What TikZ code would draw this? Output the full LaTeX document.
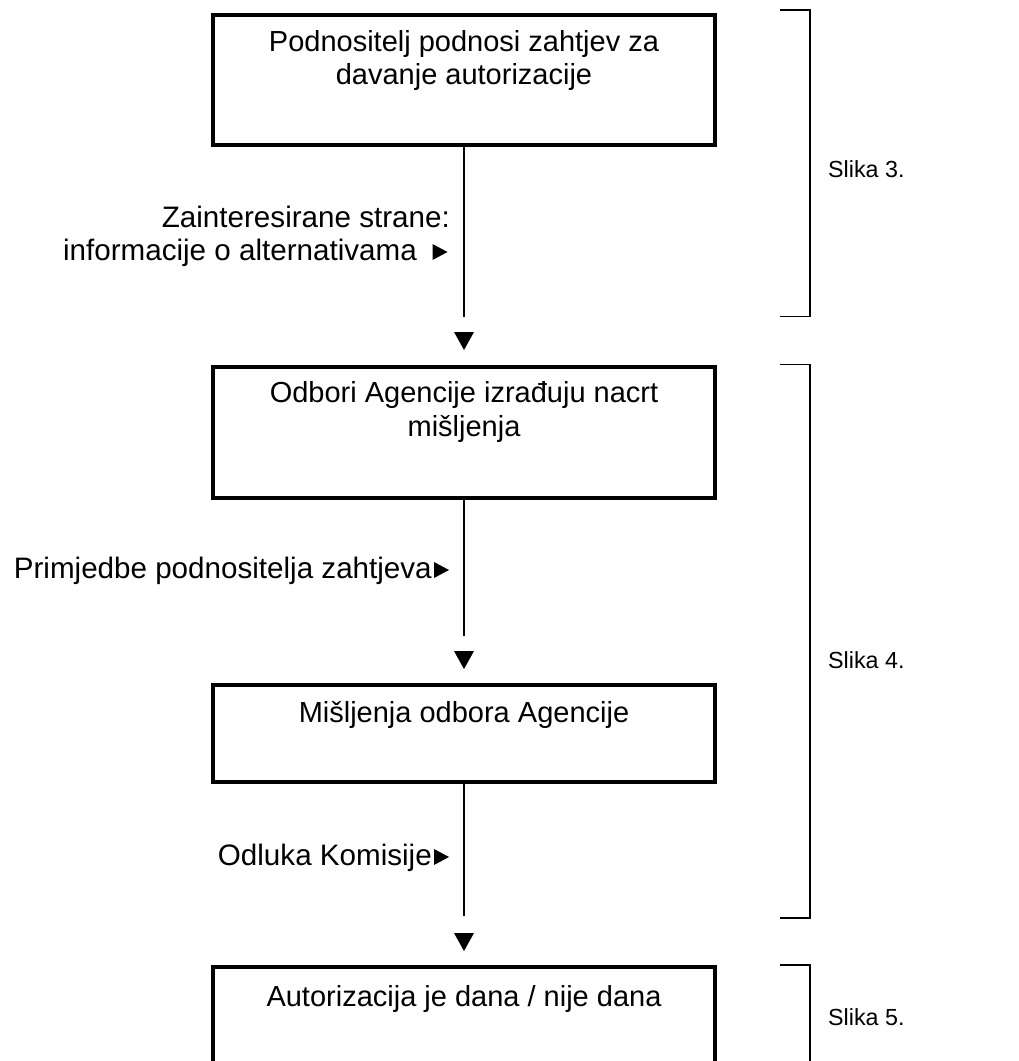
\documentclass[tikz,border=0pt]{standalone}
\usepackage{fontspec}
\setmainfont{Liberation Sans}
\begin{document}
\begin{tikzpicture}[x=1pt,y=-1pt,
  box/.style={draw, line width=4pt, minimum width=502pt, inner sep=0pt, anchor=north},
  boxtext/.style={font=\fontsize{29}{33.5}\selectfont, align=center, anchor=base, inner sep=0pt},
  side/.style={font=\fontsize{29.6}{33}\selectfont, anchor=base east, inner sep=0pt},
  slika/.style={font=\fontsize{23.3}{27}\selectfont, anchor=base west, inner sep=0pt},
  conn/.style={line width=1.2pt},
  brack/.style={line width=1.4pt},
  downtri/.pic={\fill (-10,-9) -- (10,-9) -- (0,9) -- cycle;},
  righttri/.pic={\fill (-7.5,-8) -- (7.5,0) -- (-7.5,8) -- cycle;}
]
\clip (0,0) rectangle (1019,1061);
\fill[white] (0,0) rectangle (1019,1061);

% process boxes
\node[box, minimum height=130.3pt] (b1) at (464,12.7) {};
\node[box, minimum height=131pt]   (b2) at (464,364.5) {};
\node[box, minimum height=96.5pt]  (b3) at (464,683) {};
\node[box, minimum height=140pt]   (b4) at (464,965) {};

% box texts (base anchor sits on the last line)
\node[boxtext] (t1) at (464,84.5) {Podnositelj podnosi zahtjev za\\davanje autorizacije};
\node[boxtext] (t2) at (464,436) {Odbori Agencije izrađuju nacrt\\mišljenja};
\node[boxtext] (t3) at (464,722) {Mišljenja odbora Agencije};
\node[boxtext] (t4) at (464,1006) {Autorizacija je dana / nije dana};

% connectors between the boxes, each ending above a down-pointing marker
\coordinate (c1) at (464,317);
\coordinate (c2) at (464,636);
\coordinate (c3) at (464,916);
\draw[conn] (b1.south) -- (c1);
\draw[conn] (b2.south) -- (c2);
\draw[conn] (b3.south) -- (c3);
\pic at (464,341) {downtri};
\pic at (464,660) {downtri};
\pic at (464,942) {downtri};

% side inputs
\node[side] (s1a) at (450,227) {Zainteresirane strane:};
\node[side] (s1b) at (417,260) {informacije o alternativama};
\pic at (440,252) {righttri};
\node[side] (s2) at (432,578) {Primjedbe podnositelja zahtjeva};
\pic at (441.5,570) {righttri};
\node[side] (s3) at (432,865) {Odluka Komisije};
\pic at (441.5,857) {righttri};

% brackets grouping the stages
\draw[brack] (780,10) -- (810,10) -- (810,316.7) -- (780,316.7);
\draw[brack] (780,364.5) -- (810,364.5) -- (810,918) -- (780,918);
\draw[brack] (780,965) -- (810,965) -- (810,1080);

\node[slika] (k3) at (828,177) {Slika 3.};
\node[slika] (k4) at (828,668) {Slika 4.};
\node[slika] (k5) at (828,1025) {Slika 5.};
\end{tikzpicture}
\end{document}
